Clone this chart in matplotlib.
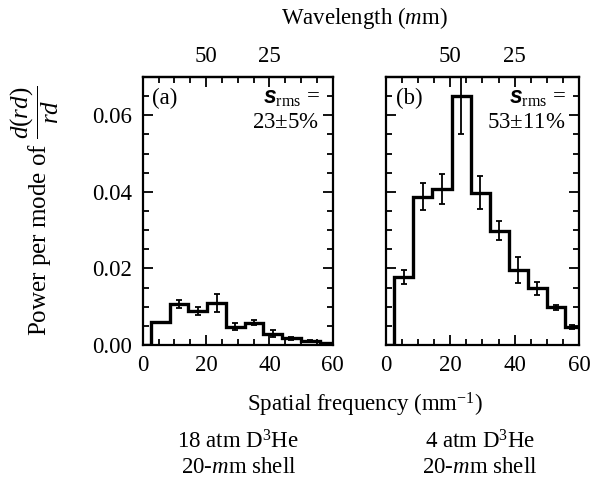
import numpy as np
import matplotlib
matplotlib.use("Agg")
import matplotlib.pyplot as plt
from matplotlib.ticker import MultipleLocator, FixedLocator, FixedFormatter, FormatStrFormatter

plt.rcParams['font.family'] = ['Liberation Serif', 'DejaVu Serif']
plt.rcParams['mathtext.fontset'] = 'custom'
plt.rcParams['mathtext.rm'] = 'Liberation Serif'
plt.rcParams['mathtext.it'] = 'Liberation Serif:italic'
plt.rcParams['mathtext.bf'] = 'Liberation Serif:bold'
plt.rcParams['mathtext.sf'] = 'Liberation Sans:italic:bold'

# bin edges in spatial frequency (mm^-1)
edges = [2.5, 8.5, 14.4, 20.4, 26.3, 32.2, 38.1, 44.0, 49.9, 55.8, 60.0]

# panel (a): 18 atm D3He
power_a = [0.0059, 0.0107, 0.0089, 0.0110, 0.0048, 0.0058, 0.0029, 0.0017, 0.0011, 0.0005]
err_a = [0.0002, 0.0010, 0.0010, 0.0024, 0.0010, 0.0007, 0.0009, 0.0005, 0.0002, 0.0001]

# panel (b): 4 atm D3He
power_b = [0.0177, 0.0387, 0.0407, 0.0650, 0.0398, 0.0298, 0.0196, 0.0148, 0.0098, 0.0048]
err_b = [0.0018, 0.0035, 0.0040, 0.0099, 0.0044, 0.0025, 0.0034, 0.0017, 0.0006, 0.0005]

panel_tags = ['(a)', '(b)']
srms_text = ['23$\\pm$5%', '53$\\pm$11%']
captions = ['18 atm D$^3$He\n20-$\\mathit{m}$m shell', '4 atm D$^3$He\n20-$\\mathit{m}$m shell']
wl_ticks = [20, 40]
wl_labels = ['50', '25']

FS = 16.5

fig = plt.figure(figsize=(6, 4.83), dpi=100)
ax_a = fig.add_axes([0.238, 0.2857, 0.3167, 0.5549])
ax_b = fig.add_axes([0.6433, 0.2857, 0.3217, 0.5549])

for i, (ax, power, err) in enumerate([(ax_a, power_a, err_a), (ax_b, power_b, err_b)]):
    e = np.array(edges)
    p = np.array(power)
    # step outline, sitting on zero before the first bin
    xs = [0, e[0]]
    ys = [0, 0]
    for k in range(len(p)):
        xs += [e[k], e[k + 1]]
        ys += [p[k], p[k]]
    ax.plot(xs, ys, color='black', lw=2.4, solid_joinstyle='miter')
    centers = (e[:-1] + e[1:]) / 2
    ax.errorbar(centers, p, yerr=err, fmt='none', ecolor='black', elinewidth=1.3, capsize=2.5, capthick=1.3)

    ax.set_xlim(0, 60)
    ax.set_ylim(0, 0.07)
    ax.xaxis.set_major_locator(MultipleLocator(20))
    ax.xaxis.set_minor_locator(MultipleLocator(5))
    ax.yaxis.set_major_locator(MultipleLocator(0.02))
    ax.yaxis.set_minor_locator(MultipleLocator(0.005))
    ax.tick_params(which='both', direction='in', left=True, right=True, bottom=True, top=False, width=1.3)
    ax.tick_params(which='major', length=7, labelsize=FS)
    ax.tick_params(axis='x', which='major', pad=7)
    ax.tick_params(axis='y', which='major', pad=8)
    ax.tick_params(which='minor', length=4)
    for s in ax.spines.values():
        s.set_linewidth(1.6)

    # wavelength axis on top
    top = ax.secondary_xaxis('top')
    top.xaxis.set_major_locator(FixedLocator(wl_ticks))
    top.xaxis.set_major_formatter(FixedFormatter(wl_labels))
    top.xaxis.set_minor_locator(MultipleLocator(5))
    top.tick_params(which='both', direction='in', width=1.3, labelsize=FS)
    top.tick_params(which='major', length=7, pad=7)
    top.tick_params(which='minor', length=4)
    top.spines['top'].set_linewidth(1.6)

    ax.text(0.05, 0.96, panel_tags[i], transform=ax.transAxes, fontsize=FS, va='top', ha='left')
    ax.text(0.93, 0.96, '$\\mathsf{s}_{\\mathrm{rms}}$ =', transform=ax.transAxes,
            fontsize=FS, va='top', ha='right')
    ax.text(0.93, 0.87, srms_text[i], transform=ax.transAxes, fontsize=FS, va='top', ha='right')

ax_a.yaxis.set_major_formatter(FormatStrFormatter('%.2f'))
ax_b.tick_params(labelleft=False)

ax_a.set_ylabel('Power per mode of $\\dfrac{\\mathit{d}(\\mathit{rd})}{\\mathit{rd}}$', fontsize=18)
ax_a.yaxis.set_label_coords(-0.43, 0.5)

fig.text(0.608, 0.963, 'Wavelength ($\\mathit{m}$m)', fontsize=FS, ha='center', va='center')
fig.text(0.608, 0.161, 'Spatial frequency (mm$^{-1}$)', fontsize=FS, ha='center', va='center')
fig.text(0.397, 0.06, captions[0], fontsize=FS, ha='center', va='center', linespacing=1.2)
fig.text(0.80, 0.06, captions[1], fontsize=FS, ha='center', va='center', linespacing=1.2)

fig.savefig('out.png', dpi=100)
